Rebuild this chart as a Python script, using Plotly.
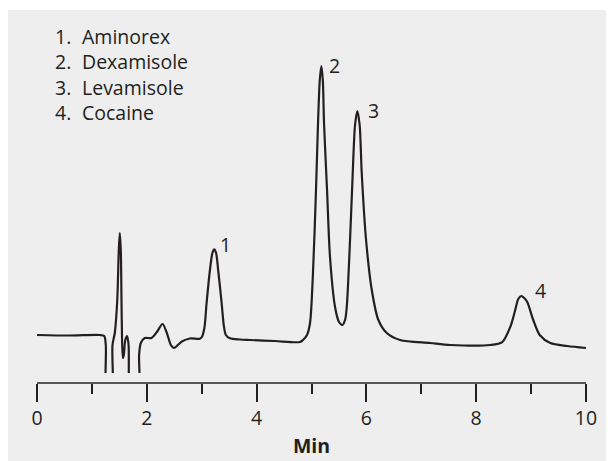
import plotly.graph_objects as go

# Chromatogram trace (time in min, detector signal in arbitrary units)
time_min = [0.000, 0.596, 1.143, 1.225, 1.253, 1.276, 1.358, 1.375, 1.417, 1.462,
            1.490, 1.508, 1.526, 1.544, 1.563, 1.581, 1.608, 1.641, 1.668, 1.690,
            1.709, 1.845, 1.860, 1.891, 1.963, 2.086, 2.183, 2.287, 2.365, 2.438,
            2.493, 2.566, 2.639, 2.785, 2.967, 3.003, 3.049, 3.089, 3.150, 3.195,
            3.228, 3.262, 3.300, 3.363, 3.404, 3.441, 3.514, 3.696, 3.879, 4.334,
            4.790, 4.845, 4.918, 4.973, 5.027, 5.082, 5.119, 5.151, 5.179, 5.206,
            5.228, 5.283, 5.337, 5.429, 5.501, 5.562, 5.611, 5.642, 5.702, 5.751,
            5.793, 5.835, 5.877, 5.915, 5.994, 6.098, 6.218, 6.371, 6.614, 7.161,
            7.526, 8.255, 8.474, 8.620, 8.711, 8.766, 8.820, 8.875, 8.930, 9.039,
            9.157, 9.349, 9.659, 10.000]
signal = [38, 37.5, 38, 37, 28, -30, -30, 28, 40, 73,
          123, 140, 123, 53, 15, 18, 33, 37, 28, -30,
          -30, -30, 18, 30, 35, 35, 41, 49, 40, 28,
          25, 28, 31.5, 34.5, 34.3, 36, 45, 70, 103, 120,
          123.7, 120, 103, 70, 47, 38, 34.7, 33.5, 33, 32,
          31, 33, 38, 50, 100, 183, 250, 293, 307, 293,
          250, 183, 116, 66, 51, 48, 53, 66, 133, 200,
          248, 262, 248, 200, 133, 83, 53, 40, 33, 30,
          28, 28, 31, 46, 63, 74, 77, 75, 71, 53,
          38, 30, 27, 25]

# Peak identification
peak_numbers = ["1", "2", "3", "4"]
peak_times = [3.228, 5.179, 5.835, 8.820]
peak_heights = [123.7, 307, 262, 77]
compounds = ["Aminorex", "Dexamisole", "Levamisole", "Cocaine"]

# Axis ticks
x_ticks = [0, 2, 4, 6, 8, 10]
x_tick_labels = ["0", "2", "4", "6", "8", "10"]

ink = "#231f20"
font_family = "Open Sans, Noto Sans, sans-serif"
fs = 19.5

fig = go.Figure()
fig.add_trace(go.Scatter(
    x=time_min, y=signal, mode="lines",
    line=dict(color=ink, width=2.2, shape="spline", smoothing=0.8),
    hoverinfo="skip", showlegend=False,
))

annotations = []
label_shift = [(11, 5), (13, 1), (16, 1), (19, 6)]
for lab, t, h, (dx, dy) in zip(peak_numbers, peak_times, peak_heights, label_shift):
    annotations.append(dict(
        x=t, y=h, xref="x", yref="y", text=lab, showarrow=False,
        xshift=dx, yshift=dy, xanchor="center", yanchor="middle",
        font=dict(size=fs, color=ink, family=font_family),
    ))

# Compound key: numbers column and names column
annotations.append(dict(
    x=0.029, y=0.926, xref="paper", yref="paper",
    text="<br>".join(n + "." for n in peak_numbers),
    showarrow=False, xanchor="left", yanchor="middle", align="left",
    font=dict(size=fs, color=ink, family=font_family),
))
annotations.append(dict(
    x=0.078, y=0.926, xref="paper", yref="paper",
    text="<br>".join(compounds),
    showarrow=False, xanchor="left", yanchor="middle", align="left",
    font=dict(size=fs, color=ink, family=font_family),
))

fig.update_layout(
    width=614, height=461,
    margin=dict(l=29, r=36, t=42, b=86),
    paper_bgcolor="white",
    plot_bgcolor="rgba(0,0,0,0)",
    font=dict(family=font_family, color=ink, size=fs),
    shapes=[dict(
        type="rect", xref="paper", yref="paper",
        x0=-0.07, x1=1.1, y0=-0.3, y1=1.12,
        fillcolor="#eeeeee", line=dict(width=0), layer="below",
    )],
    annotations=annotations,
    xaxis=dict(
        range=[0, 10], anchor="free", position=0,
        tickmode="array", tickvals=x_ticks, ticktext=x_tick_labels,
        ticks="outside", ticklen=18, tickwidth=1.5, tickcolor=ink,
        showline=True, linecolor="#555555", linewidth=2,
        showgrid=False, zeroline=False,
        minor=dict(dtick=1, ticks="outside", ticklen=10, tickwidth=1.5,
                   tickcolor=ink, showgrid=False),
        tickfont=dict(size=fs, color=ink, family=font_family),
        title=dict(text="<b>Min</b>", standoff=8,
                   font=dict(size=fs, color=ink, family=font_family)),
    ),
    yaxis=dict(
        domain=[0.03, 1], range=[0, 323], visible=False,
        showgrid=False, zeroline=False,
    ),
)

fig.write_html("out.html")
